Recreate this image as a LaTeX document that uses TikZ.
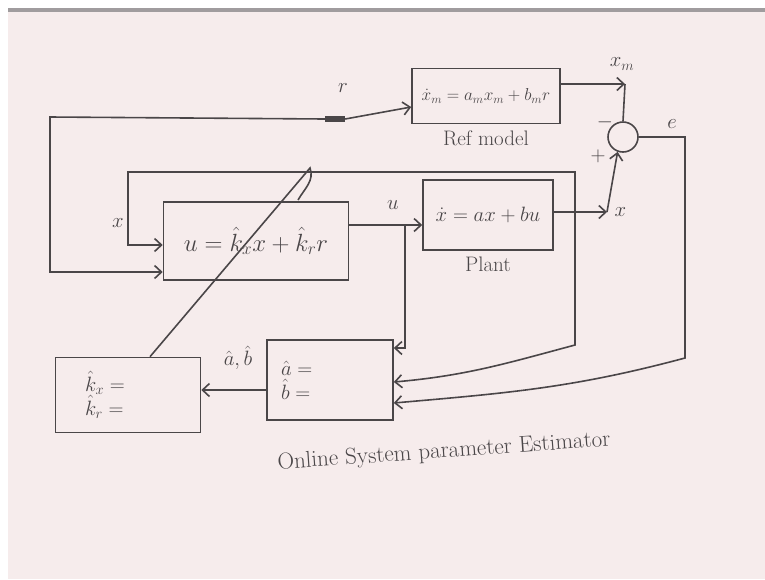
\documentclass[tikz,border=0pt]{standalone}
\usepackage{xcolor}
\usepackage{tikz}
\usetikzlibrary{arrows.meta,positioning}
\usepackage{amsmath}
\definecolor{ink}{RGB}{74,70,72}
\definecolor{paper}{RGB}{246,236,236}
\definecolor{rulegrey}{RGB}{160,156,158}

\begin{document}
\begin{tikzpicture}[
  x=1pt, y=-1pt,
  node distance=3pt and 4pt,
  >={Straight Barb[length=7pt,width=13pt]},
  every node/.style={font=\fontsize{21}{24}\selectfont, text=ink, align=center},
  blk/.style={draw=ink, line width=1.6pt, minimum width=130pt, minimum height=70pt, font=\fontsize{20}{23}\selectfont},
  sumj/.style={draw=ink, line width=1.6pt, circle, minimum size=30pt, inner sep=0pt},
  junc/.style={fill=ink, minimum width=20pt, minimum height=6pt, inner sep=0pt},
  wire/.style={line width=1.6pt, color=ink},
  arrow/.style={->, line width=1.6pt, color=ink}
]

% page
\useasboundingbox (0,0) rectangle (765,579);
\fill[white] (0,0) rectangle (765,579);
\fill[paper] (8,12) rectangle (765,579);
\fill[rulegrey] (8,8) rectangle (765,12);

% blocks
\node[blk, minimum width=148pt, minimum height=55pt, font=\fontsize{17}{21}\selectfont] (ref) at (486,96) {$\dot{x}_m = a_m x_m + b_m r$};
\node[below=of ref] (reflbl) {Ref model};
\node[blk] (plant) at (488,215) {$\dot{x} = ax + bu$};
\node[below=of plant] (plantlbl) {Plant};
\node[blk, minimum width=185pt, minimum height=78pt, font=\fontsize{24}{27}\selectfont] (ctrl) at (256,241) {$u = \hat{k}_x x + \hat{k}_r r$};
\node[blk, minimum width=126pt, minimum height=80pt, text width=98pt, align=left] (est) at (330,380) {$\hat{a} =$\\[1pt]$\hat{b} =$};
\node[blk, minimum width=145pt, minimum height=75pt, text width=86pt, align=left] (kbox) at (128,395) {$\hat{k}_x =$\\[1pt]$\hat{k}_r =$};
\node[sumj] (sum) at (623,137) {};
\node[junc] (blob) at (335,119) {};

% corners
\coordinate (rl) at (50,117);
\coordinate (ub) at (405,225);
\coordinate (xb) at (575,212);
\coordinate (xo) at (607,212);
\coordinate (xm) at (625,84);
\coordinate (xtl) at (128,172);
\coordinate (xd) at (575,345);
\coordinate (ec) at (685,358);
\coordinate (adj) at (310,168);
\coordinate (hook) at (298,200);

% labels
\node (rlbl) at (343,88) {$r$};
\node (xmlbl) at (622,64) {$x_m$};
\node (ulbl) at (393,205) {$u$};
\node[right=of xo] (xlbl) {$x$};
\node (xinlbl) at (118,223) {$x$};
\node (elbl) at (672,124) {$e$};
\node (minus) at (605,122) {$-$};
\node (plus) at (598,156) {$+$};
\node (ablbl) at (238,358) {$\hat{a}, \hat{b}$};
\node[rotate=4, font=\fontsize{23}{26}\selectfont] (estlbl) at (444,452) {Online System parameter Estimator};

% connectors
\draw[arrow] (blob.east) -- ([yshift=-11pt]ref.west);
\draw[arrow] (blob.west) -- (rl) |- ([yshift=-31pt]ctrl.west);
\draw[arrow] (xb) |- (xtl) |- ([yshift=-4pt]ctrl.west);
\draw[arrow] (ctrl.east |- ub) -- (plant.west |- ub);
\draw[arrow] (ub) |- ([yshift=32pt]est.east);
\draw[arrow] (plant.east |- xb) -- (xo);
\draw[arrow] (xo) -- (sum.-110);
\draw[arrow] ([yshift=12pt]ref.east) -- (xm);
\draw[wire] (xm) -- (sum.north);
\draw[arrow] (sum.east) -- (sum.east -| ec) -- (ec) to[out=195,in=5] ([yshift=-23pt]est.east);
\draw[arrow] (xb) -- (xd) to[out=195,in=5] ([yshift=-2pt]est.east);
\draw[arrow] ([yshift=-10pt]est.west) -- ([yshift=-10pt]est.west -| kbox.east);
\draw[wire] ([xshift=22pt]kbox.north) -- (adj) to[out=-70,in=60] (hook);

\end{tikzpicture}
\end{document}
